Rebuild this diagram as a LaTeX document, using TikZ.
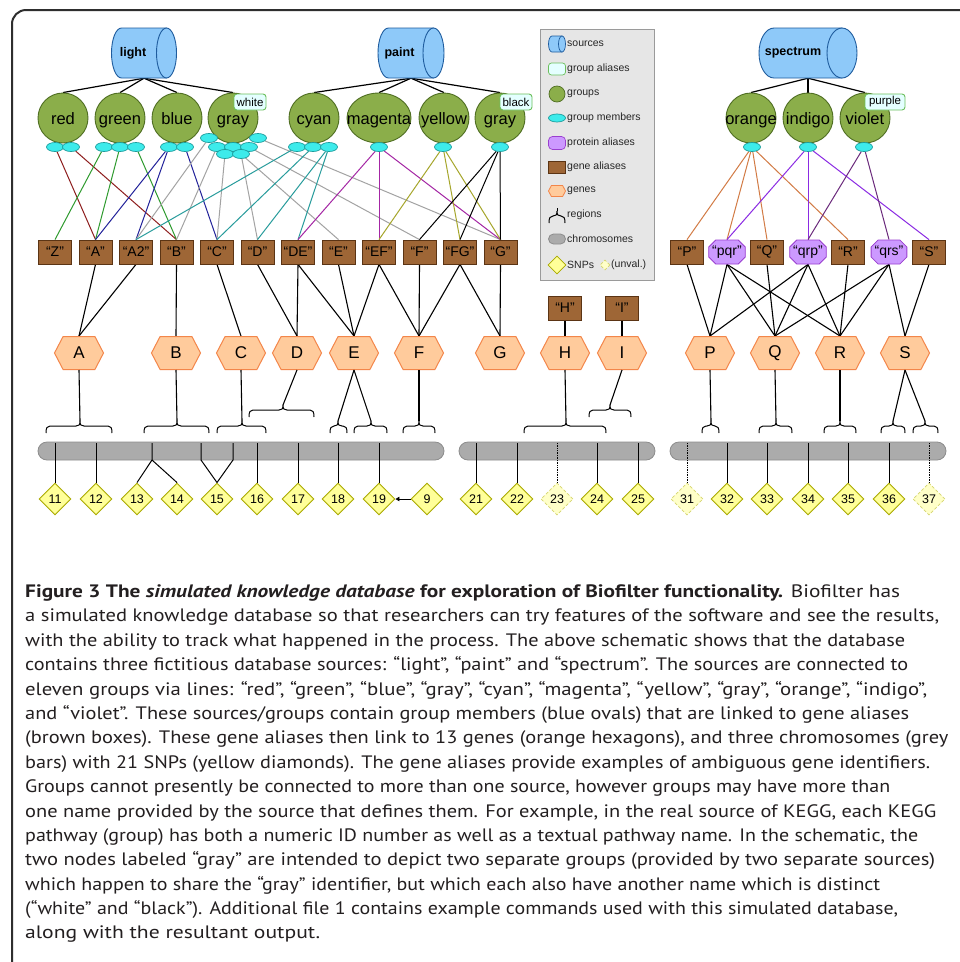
\documentclass[tikz,border=0pt]{standalone}
\usepackage{fontspec}
\usepackage{graphicx}
\setmainfont{Liberation Sans}
\newfontfamily\capfont{PT Sans}
\usetikzlibrary{shapes.geometric,shapes.misc,shapes.symbols,arrows.meta}
\pgfdeclarelayer{paper}
\pgfdeclarelayer{links}
\pgfsetlayers{paper,links,main}

% node colours
\definecolor{srcfill}{HTML}{8EC9F9}
\definecolor{srcline}{HTML}{1F5C9E}
\definecolor{grpfill}{HTML}{8BAE4A}
\definecolor{grpline}{HTML}{4F6E22}
\definecolor{memfill}{HTML}{3DEBEB}
\definecolor{memline}{HTML}{1C9C9C}
\definecolor{tagfill}{HTML}{E4FFFF}
\definecolor{tagline}{HTML}{6CBF5C}
\definecolor{aliasfill}{HTML}{9E6636}
\definecolor{aliasline}{HTML}{5B3414}
\definecolor{protfill}{HTML}{CC99FF}
\definecolor{protline}{HTML}{9A3FCF}
\definecolor{genefill}{HTML}{FFCB9C}
\definecolor{geneline}{HTML}{F3864A}
\definecolor{chrfill}{HTML}{ABABAB}
\definecolor{chrline}{HTML}{8C8C8C}
\definecolor{snpfill}{HTML}{FFFF99}
\definecolor{snpline}{HTML}{A9A900}
\definecolor{unvfill}{HTML}{FFFFC8}
\definecolor{unvline}{HTML}{D4D470}
\definecolor{legfill}{HTML}{E6E6E6}
\definecolor{legline}{HTML}{9A9A9A}
\definecolor{framecol}{HTML}{2E2E2E}
\definecolor{captext}{HTML}{231F20}
% link colours
\definecolor{lred}{HTML}{8E1E1E}
\definecolor{lgreen}{HTML}{2F9B2F}
\definecolor{lblue}{HTML}{22229A}
\definecolor{lgray}{HTML}{A3A3A3}
\definecolor{lcyan}{HTML}{289C9C}
\definecolor{lmag}{HTML}{A426A4}
\definecolor{lyel}{HTML}{A6A62C}
\definecolor{lorange}{HTML}{D27B45}
\definecolor{lindigo}{HTML}{8B2BE3}
\definecolor{lviolet}{HTML}{6B2A7C}

\newcommand\setfs[1]{\fontsize{#1}{#1}\selectfont}
% brace for a region: name, left x, centre x, right x, height
\newcommand\regionbrace[5]{%
  \draw[regionline] (#2,#5+7) .. controls (#2,#5+2) and (#2+1,#5) .. (#2+4,#5)
    -- (#3-4,#5) .. controls (#3-1,#5) and (#3,#5-1) .. (#3,#5-5)
    .. controls (#3,#5-1) and (#3+1,#5) .. (#3+4,#5)
    -- (#4-4,#5) .. controls (#4-1,#5) and (#4,#5+2) .. (#4,#5+7);
  \coordinate (#1) at (#3,#5-5);}
% horizontal drum for a source: name, centre x, centre y, width, half height, end radius, label
\newcommand\sourcedrum[7]{%
  \path[srcbody] (#2-#4/2+#6,#3-#5) -- (#2+#4/2-#6,#3-#5) -- (#2+#4/2-#6,#3+#5)
    -- (#2-#4/2+#6,#3+#5)
    .. controls (#2-#4/2+#6-0.552*#6,#3+#5) and (#2-#4/2,#3+0.552*#5) .. (#2-#4/2,#3)
    .. controls (#2-#4/2,#3-0.552*#5) and (#2-#4/2+#6-0.552*#6,#3-#5) .. cycle;
  \path[srcbody] (#2+#4/2-#6,#3) ellipse [x radius=#6, y radius=#5];
  \node[srclabel, minimum width=#4pt, minimum height=2*#5pt] (#1) at (#2,#3) {#7};}

\tikzset{
  srcbody/.style={draw=srcline, fill=srcfill, line width=0.9pt},
  srclabel/.style={rectangle, inner sep=0pt, font=\bfseries\setfs{12.5}},
  group/.style={circle, draw=grpline, fill=grpfill, line width=0.9pt,
    minimum size=50pt, inner sep=-4pt, text height=14pt, text depth=2pt, font=\setfs{16.5}},
  grouptag/.style={rectangle, rounded corners=3pt, draw=tagline, fill=tagfill,
    line width=0.9pt, minimum height=16pt, inner sep=0pt, font=\setfs{11.5}},
  member/.style={ellipse, draw=memline, fill=memfill, line width=0.7pt,
    minimum width=17pt, minimum height=9pt, inner sep=0pt},
  alias/.style={rectangle, draw=aliasline, fill=aliasfill, line width=0.8pt,
    minimum width=33pt, minimum height=24pt, inner sep=0pt, font=\setfs{14}},
  protein/.style={chamfered rectangle, chamfered rectangle xsep=3.5pt,
    chamfered rectangle ysep=3.5pt, draw=protline, fill=protfill, line width=0.8pt,
    minimum width=34pt, minimum height=24pt, inner sep=0pt, font=\setfs{14}},
  gene/.style={signal, signal to=east and west, signal pointer angle=125,
    draw=geneline, fill=genefill, line width=1pt,
    minimum width=49pt, minimum height=33pt, inner sep=0pt, font=\setfs{17}},
  chrom/.style={rectangle, rounded corners=9pt, draw=chrline, fill=chrfill,
    line width=0.8pt, minimum height=18pt, inner sep=0pt},
  snp/.style={diamond, draw=snpline, fill=snpfill, line width=0.9pt,
    minimum width=32pt, minimum height=32pt, inner sep=0pt, font=\setfs{12.5}},
  unval/.style={diamond, draw=unvline, fill=unvfill, line width=0.8pt, densely dashed,
    minimum width=32pt, minimum height=32pt, inner sep=0pt, font=\setfs{12.5}},
  srclink/.style={draw=black, line width=1.2pt},
  genelink/.style={draw=black, line width=1.1pt},
  memlink/.style={line width=1pt},
  snplink/.style={draw=black, line width=1pt},
  unvlink/.style={draw=black, line width=0.7pt, densely dotted},
  regionline/.style={draw=black, line width=1pt},
  legtext/.style={anchor=west, inner sep=0pt, font=\setfs{10.5}, text=black!85},
  capline/.style={anchor=base west, inner sep=0pt, font=\capfont\setfs{18}, text=captext},
}

\begin{document}
\begin{tikzpicture}[x=1pt, y=-1pt]
\clip (0,0) rectangle (960,962);
\begin{pgfonlayer}{paper}
  \fill[white] (0,0) rectangle (960,962);
\end{pgfonlayer}

% outer frame
\draw[framecol, line width=2pt, rounded corners=14pt] (12,10) rectangle (1000,1000);

% ---------- sources (label kept on the body, left of the end cap) ----------
\sourcedrum{light}{144}{53}{65}{25}{10}{light\hspace*{22pt}}
\sourcedrum{paint}{411}{53}{66}{25}{10.5}{paint\hspace*{23pt}}
\sourcedrum{spectrum}{808}{53}{98}{25}{15}{spectrum\hspace*{30pt}}

% ---------- groups ----------
\node[group] (red) at (63,118) {red};
\node[group] (green) at (120,118) {green};
\node[group] (blue) at (177,118) {blue};
\node[group] (grayw) at (233,118) {gray};
\node[group] (cyan) at (314,118) {cyan};
\node[group, ellipse, minimum width=64pt, minimum height=50pt, inner xsep=-10pt] (magenta) at (379,118) {magenta};
\node[group] (yellow) at (444,118) {yellow};
\node[group] (grayb) at (500,118) {gray};
\node[group] (orange) at (751,118) {orange};
\node[group] (indigo) at (808,118) {indigo};
\node[group] (violet) at (865,118) {violet};

\node[grouptag, minimum width=32pt] (white) at (250,102) {white};
\node[grouptag, minimum width=32pt] (black) at (516,102) {black};
\node[grouptag, minimum width=40pt] (purple) at (885,102) {purple};

% ---------- group members ----------
\node[member] (mr1) at (55,147) {};
\node[member] (mr2) at (71,147) {};
\node[member] (mg1) at (104,147) {};
\node[member] (mg2) at (120,147) {};
\node[member] (mg3) at (136,147) {};
\node[member] (mb1) at (169,147) {};
\node[member] (mb2) at (185,147) {};
\node[member] (mw1) at (209,138) {};
\node[member] (mw2) at (258,138) {};
\node[member] (mw3) at (217,147) {};
\node[member] (mw4) at (233,147) {};
\node[member] (mw5) at (249,147) {};
\node[member] (mw6) at (225,154) {};
\node[member] (mw7) at (241,154) {};
\node[member] (mc1) at (297,147) {};
\node[member] (mc2) at (313,147) {};
\node[member] (mc3) at (329,147) {};
\node[member] (mm) at (379,147) {};
\node[member] (my) at (443,147) {};
\node[member] (mk) at (500,147) {};
\node[member] (mo) at (752,147) {};
\node[member] (mi) at (808,147) {};
\node[member] (mv) at (864,147) {};

% ---------- gene aliases ----------
\node[alias] (aZ) at (55,252) {“Z”};
\node[alias] (aA) at (95.5,252) {“A”};
\node[alias] (aA2) at (136,252) {“A2”};
\node[alias] (aB) at (176.5,252) {“B”};
\node[alias] (aC) at (217,252) {“C”};
\node[alias] (aD) at (257.5,252) {“D”};
\node[alias] (aDE) at (298,252) {“DE”};
\node[alias] (aE) at (338.5,252) {“E”};
\node[alias] (aEF) at (379,252) {“EF”};
\node[alias] (aF) at (419.5,252) {“F”};
\node[alias] (aFG) at (460,252) {“FG”};
\node[alias] (aG) at (500.5,252) {“G”};
\node[alias] (aH) at (565,308) {“H”};
\node[alias] (aI) at (622,308) {“I”};
\node[alias] (aP) at (687,252) {“P”};
\node[protein] (pqr) at (727,252) {“pqr”};
\node[alias] (aQ) at (767,252) {“Q”};
\node[protein] (qrp) at (808,252) {“qrp”};
\node[alias] (aR) at (848,252) {“R”};
\node[protein] (qrs) at (889,252) {“qrs”};
\node[alias] (aS) at (929,252) {“S”};

% ---------- genes ----------
\foreach \g/\x in {A/79,B/176,C/241,D/297,E/354,F/419,G/500,H/565,I/622,P/710,Q/775,R/840,S/905}
  \node[gene] (g\g) at (\x,353) {\g};

% ---------- chromosomes ----------
\node[chrom, minimum width=406pt] (chr1) at (241,451) {};
\node[chrom, minimum width=196pt] (chr2) at (557,451) {};
\node[chrom, minimum width=276pt] (chr3) at (808,451) {};

% ---------- SNPs ----------
\foreach \s/\x in {11/55,12/96,13/137,14/177,15/217,16/257,17/298,18/338,19/379,9/427,
                   21/476,22/517,24/597,25/638,32/727,33/767,34/808,35/848,36/889}
  \node[snp] (s\s) at (\x,499) {\s};
\foreach \s/\x in {23/557,31/687,37/929}
  \node[unval] (s\s) at (\x,499) {\s};

% SNP positions on the chromosomes
\foreach \s/\x in {11/55,12/96,16/257,17/298,18/338,19/379,21/476,22/517,24/597,25/638,
                   32/727,33/767,34/808,35/848,36/889} {
  \coordinate (c\s) at (\x,443);
  \draw[snplink] (c\s) -- (s\s);
}
\foreach \s/\x in {23/557,31/687,37/929} {
  \coordinate (c\s) at (\x,443);
  \draw[unvlink] (c\s) -- (s\s);
}
\coordinate (c13) at (152,443);
\coordinate (c13b) at (152,460);
\draw[snplink] (c13) -- (c13b) -- (s13.north);
\draw[snplink] (c13b) -- (s14.north);
\coordinate (c15a) at (201,443);
\coordinate (c15ab) at (201,460);
\coordinate (c15b) at (233,443);
\coordinate (c15bb) at (233,460);
\draw[snplink] (c15a) -- (c15ab) -- (s15.north);
\draw[snplink] (c15b) -- (c15bb) -- (s15.north);
% merged SNP
\draw[line width=0.8pt, -{Triangle[length=4pt,width=4.5pt]}] (s9) -- (s19);

% ---------- regions ----------
\regionbrace{rA}{46}{80}{112}{426}
\regionbrace{rB}{144}{177}{209}{426}
\regionbrace{rC}{217}{242}{266}{426}
\regionbrace{rD}{249}{283}{314}{410}
\regionbrace{rE1}{330}{338}{347}{426}
\regionbrace{rE2}{354}{371}{387}{426}
\regionbrace{rF}{403}{419}{435}{426}
\regionbrace{rH}{524}{566}{606}{426}
\regionbrace{rI}{589}{610}{631}{410}
\regionbrace{rP}{702}{711}{719}{426}
\regionbrace{rQ}{759}{776}{792}{426}
\regionbrace{rR}{824}{840}{856}{426}
\regionbrace{rS1}{881}{893}{905}{426}
\regionbrace{rS2}{913}{925}{938}{426}
\foreach \g/\r in {A/rA,B/rB,C/rC,D/rD,E/rE1,E/rE2,F/rF,H/rH,I/rI,P/rP,Q/rQ,R/rR,S/rS1,S/rS2}
  \draw[genelink] (g\g.south) -- (\r);

% ---------- links behind the nodes ----------
\begin{pgfonlayer}{links}
  \foreach \g in {red,green,blue,grayw} \draw[srclink] (light.south) -- (\g.north);
  \foreach \g in {cyan,magenta,yellow,grayb} \draw[srclink] (paint.south) -- (\g.north);
  \foreach \g in {orange,indigo,violet} \draw[srclink] (spectrum.south) -- (\g.north);

  \foreach \m/\a in {mr1/aA,mr2/aB} \draw[memlink, lred] (\m) -- (\a.north);
  \foreach \m/\a in {mg1/aZ,mg2/aA,mg3/aB} \draw[memlink, lgreen] (\m) -- (\a.north);
  \foreach \m/\a in {mb1/aA,mb1/aA2,mb2/aC} \draw[memlink, lblue] (\m) -- (\a.north);
  \foreach \m/\a in {mw1/aA2,mw3/aB,mw6/aC,mw7/aD,mw4/aE,mw5/aF,mw2/aG}
    \draw[memlink, lgray] (\m) -- (\a.north);
  \foreach \m/\a in {mc1/aA2,mc2/aC,mc3/aD,mc3/aDE} \draw[memlink, lcyan] (\m) -- (\a.north);
  \foreach \a in {aDE,aEF,aG} \draw[memlink, lmag] (mm) -- (\a.north);
  \foreach \a in {aEF,aFG,aG} \draw[memlink, lyel] (my) -- (\a.north);
  \foreach \a in {aF,aFG,aG} \draw[memlink, black] (mk) -- (\a.north);
  \foreach \a in {aP,pqr,aQ,aR} \draw[memlink, lorange] (mo) -- (\a.north);
  \foreach \a in {pqr,qrp,aS} \draw[memlink, lindigo] (mi) -- (\a.north);
  \foreach \a in {qrp,qrs} \draw[memlink, lviolet] (mv) -- (\a.north);

  \foreach \a/\g in {aA/A,aA2/A,aB/B,aC/C,aD/D,aDE/D,aDE/E,aE/E,aEF/E,aEF/F,aF/F,aFG/F,
                     aFG/G,aG/G,aH/H,aI/I,aP/P,pqr/P,pqr/Q,pqr/R,aQ/Q,qrp/P,qrp/Q,qrp/R,
                     aR/R,qrs/Q,qrs/R,qrs/S,aS/S}
    \draw[genelink] (\a.south) -- (g\g.north);
\end{pgfonlayer}

% ---------- legend ----------
\node[draw=legline, fill=legfill, line width=0.9pt, minimum width=114pt, minimum height=251pt,
      inner sep=0pt] (legend) at (597,154.5) {};
\begin{scope}[srcbody/.append style={line width=0.7pt}]
  \sourcedrum{lsrc}{557}{44}{17}{8}{3.5}{}
\end{scope}
\node[legtext] (tsrc) at (567,44) {sources};
\node[grouptag, minimum width=17pt, minimum height=12pt, line width=0.7pt] (ltag) at (557,69) {};
\node[legtext] (ttag) at (567,69) {group aliases};
\node[group, minimum size=16pt, inner sep=0pt, text height=0pt, text depth=0pt, line width=0.7pt] (lgrp) at (557,94) {};
\node[legtext] (tgrp) at (567,94) {groups};
\node[member, minimum width=17pt, minimum height=8pt] (lmem) at (557,118) {};
\node[legtext] (tmem) at (567,118) {group members};
\node[rectangle, rounded corners=4pt, draw=protline, fill=protfill, line width=0.7pt,
      minimum width=17pt, minimum height=13pt, inner sep=0pt] (lprot) at (557,143) {};
\node[legtext] (tprot) at (567,143) {protein aliases};
\node[alias, minimum width=17pt, minimum height=12pt, line width=0.7pt] (lalias) at (557,167) {};
\node[legtext] (talias) at (567,167) {gene aliases};
\node[gene, minimum width=17pt, minimum height=11pt, line width=0.8pt] (lgene) at (557,191) {};
\node[legtext] (tgene) at (567,191) {genes};
\regionbrace{lreg}{549}{557}{565}{216}
\coordinate (lregtop) at (557,208);
\draw[regionline] (lreg) -- (lregtop);
\node[legtext] (treg) at (567,215) {regions};
\node[chrom, minimum width=17pt, minimum height=10pt, rounded corners=5pt] (lchr) at (557,239) {};
\node[legtext] (tchr) at (567,239) {chromosomes};
\node[snp, minimum width=18pt, minimum height=18pt, line width=0.8pt] (lsnp) at (557,265) {};
\node[legtext] (tsnp) at (567,265) {SNPs};
\node[unval, minimum width=10pt, minimum height=10pt, line width=0.7pt] (lunv) at (605,265) {};
\node[legtext] (tunv) at (611,265) {(unval.)};

% ---------- caption ----------
\node[capline] (cap1) at (25,597) {\resizebox{875pt}{\height}{\textbf{Figure 3 The \textit{simulated knowledge database} for exploration of Biofilter functionality.} Biofilter has}};
\node[capline] (cap2) at (25,621) {\resizebox{914pt}{\height}{a simulated knowledge database so that researchers can try features of the software and see the results,}};
\node[capline] (cap3) at (25,646) {\resizebox{880pt}{\height}{with the ability to track what happened in the process. The above schematic shows that the database}};
\node[capline] (cap4) at (25,670) {\resizebox{883pt}{\height}{contains three fictitious database sources: “light”, “paint” and “spectrum”. The sources are connected to}};
\node[capline] (cap5) at (25,695) {\resizebox{902pt}{\height}{eleven groups via lines: “red”, “green”, “blue”, “gray”, “cyan”, “magenta”, “yellow”, “gray”, “orange”, “indigo”,}};
\node[capline] (cap6) at (25,719) {\resizebox{884pt}{\height}{and “violet”. These sources/groups contain group members (blue ovals) that are linked to gene aliases}};
\node[capline] (cap7) at (25,743) {\resizebox{923pt}{\height}{(brown boxes). These gene aliases then link to 13 genes (orange hexagons), and three chromosomes (grey}};
\node[capline] (cap8) at (25,768) {\resizebox{905pt}{\height}{bars) with 21 SNPs (yellow diamonds). The gene aliases provide examples of ambiguous gene identifiers.}};
\node[capline] (cap9) at (25,792) {\resizebox{865pt}{\height}{Groups cannot presently be connected to more than one source, however groups may have more than}};
\node[capline] (cap10) at (25,817) {\resizebox{911pt}{\height}{one name provided by the source that defines them. For example, in the real source of KEGG, each KEGG}};
\node[capline] (cap11) at (25,841) {\resizebox{893pt}{\height}{pathway (group) has both a numeric ID number as well as a textual pathway name. In the schematic, the}};
\node[capline] (cap12) at (25,865) {\resizebox{910pt}{\height}{two nodes labeled “gray” are intended to depict two separate groups (provided by two separate sources)}};
\node[capline] (cap13) at (25,890) {\resizebox{855pt}{\height}{which happen to share the “gray” identifier, but which each also have another name which is distinct}};
\node[capline] (cap14) at (25,914) {\resizebox{873pt}{\height}{(“white” and “black”). Additional file 1 contains example commands used with this simulated database,}};
\node[capline] (cap15) at (25,938) {\resizebox{295pt}{\height}{along with the resultant output.}};
\end{tikzpicture}
\end{document}
